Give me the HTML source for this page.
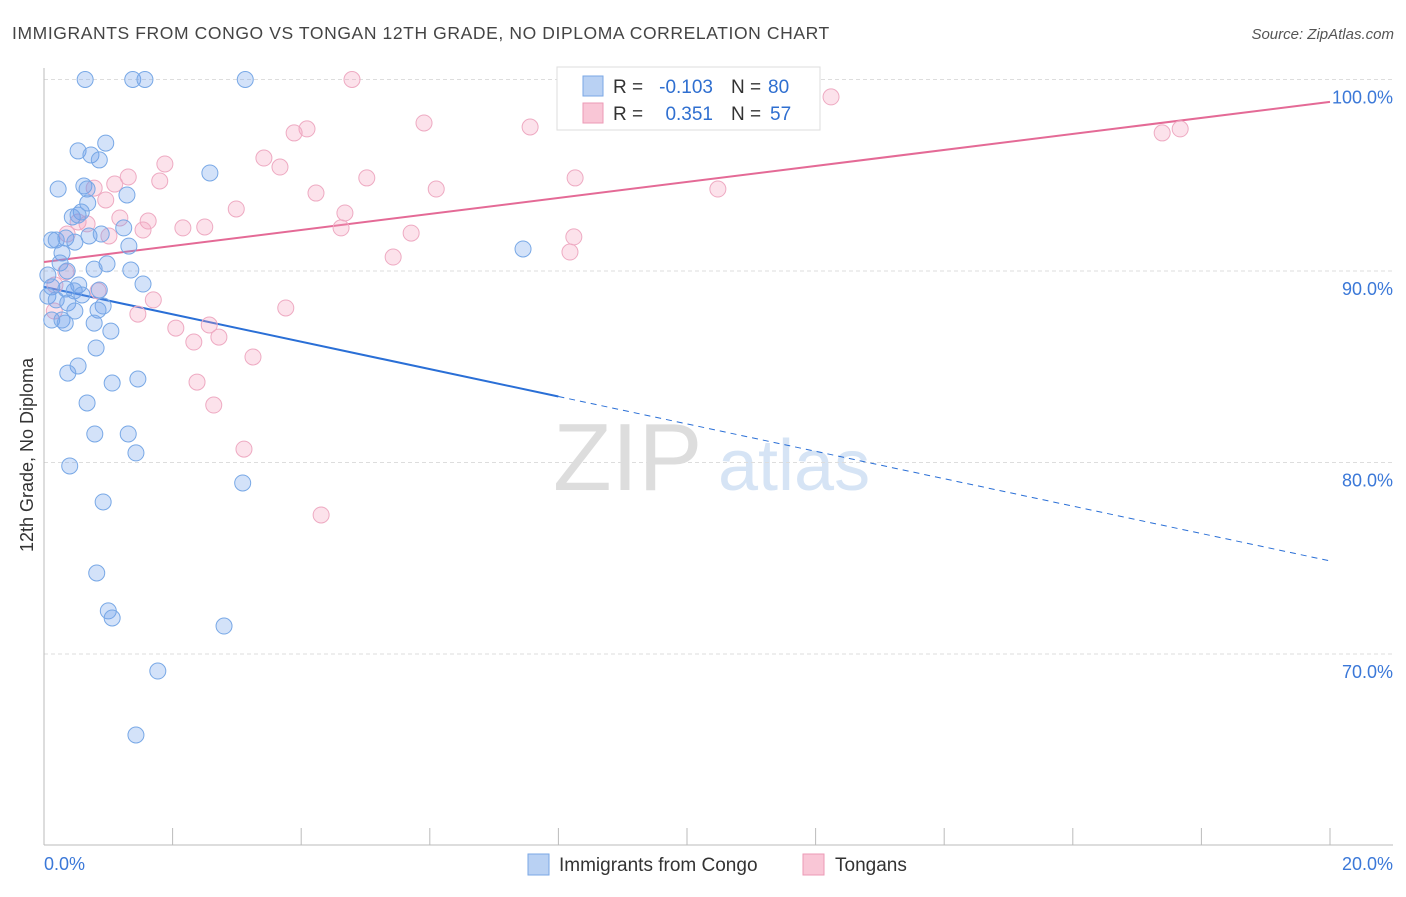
<!DOCTYPE html>
<html><head><meta charset="utf-8">
<style>
body{margin:0;background:#fff;font-family:"Liberation Sans",sans-serif;}
svg text{font-family:"Liberation Sans",sans-serif;}
</style></head>
<body>
<svg id="chart" width="1406" height="892">
<text x="12" y="39" font-size="17.5" fill="#444" letter-spacing="0.6">IMMIGRANTS FROM CONGO VS TONGAN 12TH GRADE, NO DIPLOMA CORRELATION CHART</text>
<text x="1394" y="39" font-size="15" fill="#555" font-style="italic" text-anchor="end">Source: ZipAtlas.com</text>
<text x="33" y="455" font-size="18" fill="#333" text-anchor="middle" transform="rotate(-90 33 455)">12th Grade, No Diploma</text>
<g>
<text x="553" y="490" font-size="96" fill="#ddd" font-family="Liberation Serif">ZIP</text>
<text x="718" y="490" font-size="72" fill="#d6e4f5">atlas</text>
</g>
<g id="grid"></g>
<g id="axes"></g>
<g id="lines"></g>
<g id="points"></g>
<g>
<rect x="557" y="67" width="263" height="63" fill="#fff" stroke="#ddd"/>
<rect x="583" y="76" width="20" height="20" fill="#b9d1f3" stroke="#7aa7e6"/>
<rect x="583" y="103" width="20" height="20" fill="#f9c6d6" stroke="#ec9ab6"/>
<text x="613" y="93" font-size="19" fill="#333">R =</text>
<text x="713" y="93" font-size="19" fill="#2f6fd0" text-anchor="end">-0.103</text>
<text x="731" y="93" font-size="19" fill="#333">N =</text>
<text x="768" y="93" font-size="19" fill="#2f6fd0">80</text>
<text x="613" y="120" font-size="19" fill="#333">R =</text>
<text x="713" y="120" font-size="19" fill="#2f6fd0" text-anchor="end">0.351</text>
<text x="731" y="120" font-size="19" fill="#333">N =</text>
<text x="770" y="120" font-size="19" fill="#2f6fd0">57</text>
</g>
<g>
<rect x="528" y="854" width="21" height="21" fill="#b9d1f3" stroke="#7aa7e6"/>
<text x="559" y="871" font-size="19" fill="#333">Immigrants from Congo</text>
<rect x="803" y="854" width="21" height="21" fill="#f9c6d6" stroke="#ec9ab6"/>
<text x="835" y="871" font-size="19" fill="#333">Tongans</text>
</g>
</svg>
<script>
const blueX=[0.64,1.38,1.57,3.13,0.96,0.53,0.73,0.86,2.58,0.22,0.62,0.67,1.29,0.68,0.58,0.44,0.53,1.24,0.70,0.89,0.12,0.19,0.34,0.48,1.32,0.28,0.25,0.98,0.78,1.35,0.36,0.06,1.54,0.12,0.54,0.86,0.34,0.47,0.59,0.06,0.19,0.37,0.92,0.48,0.84,0.12,0.28,0.33,0.78,1.04,0.81,0.53,0.37,1.06,1.46,0.67,0.79,1.31,1.43,0.40,3.09,0.92,0.82,1.00,1.06,2.80,1.77,1.43,7.45];
const blueY=[100,100,100,100,96.68,96.27,96.06,95.80,95.12,94.28,94.44,94.28,93.97,93.55,93.08,92.82,92.92,92.25,91.83,91.93,91.62,91.62,91.72,91.51,91.30,90.94,90.42,90.37,90.10,90.05,90.00,89.79,89.32,89.17,89.27,89.01,89.06,88.96,88.75,88.69,88.49,88.33,88.17,87.91,87.96,87.44,87.44,87.28,87.28,86.86,85.98,85.04,84.67,84.15,84.36,83.11,81.49,81.49,80.50,79.82,78.93,77.94,74.23,72.25,71.88,71.46,69.11,65.77,91.15];
const pinkX=[4.79,12.24,17.39,17.67,7.56,5.91,4.09,3.89,3.42,3.67,1.88,1.80,1.31,1.10,0.78,0.96,4.23,5.02,6.10,8.26,10.48,2.99,4.68,1.62,1.18,0.53,0.67,0.36,1.01,1.54,2.16,2.50,4.62,5.71,8.24,8.18,5.43,0.34,0.17,0.84,1.70,3.76,1.46,2.05,2.57,2.72,2.33,0.16,3.25,2.38,2.64,3.11,4.31];
const pinkY=[100,99.09,97.21,97.42,97.52,97.73,97.42,97.21,95.90,95.43,95.59,94.70,94.91,94.54,94.33,93.71,94.07,94.86,94.28,94.86,94.28,93.24,93.03,92.61,92.77,92.56,92.46,91.93,91.83,92.14,92.25,92.30,92.25,91.98,91.78,90.99,90.73,89.95,89.27,88.96,88.49,88.07,87.75,87.02,87.18,86.55,86.29,87.91,85.51,84.20,83.00,80.70,77.26];
const yTicks=[100,90,80,70];
const yTickLabels=["100.0%","90.0%","80.0%","70.0%"];
const xTickLabels=["0.0%","20.0%"];
const blueFit=[89.17,74.86];
const pinkFit=[90.47,98.83];
const blueSolidEnd=8;

const NS="http://www.w3.org/2000/svg";
const X0=44,X1=1330,YTOP=79.5,PXPER=19.15;
const xs=v=>X0+(X1-X0)*v/20;
const ys=v=>YTOP+(100-v)*PXPER;
function mk(tag,attrs,parent){const e=document.createElementNS(NS,tag);for(const k in attrs)e.setAttribute(k,attrs[k]);parent.appendChild(e);return e;}
const grid=document.getElementById('grid'),axes=document.getElementById('axes'),lines=document.getElementById('lines'),pts=document.getElementById('points');
yTicks.forEach((t,i)=>{
  const l=mk('line',{x1:X0,x2:1393,y1:ys(t),y2:ys(t),stroke:'#ddd','stroke-dasharray':'4 3'},grid);
  
  
  const tx=mk('text',{x:1393,y:ys(t)+24,'font-size':18,fill:'#3b78d8','text-anchor':'end'},axes);
  tx.textContent=yTickLabels[i];
  
  
});
const ya=mk('line',{x1:X0,x2:X0,y1:68,y2:845,stroke:'#bbb'},axes);


const xa=mk('line',{x1:X0,x2:1393,y1:845,y2:845,stroke:'#bbb'},axes);


for(let i=0;i<=20;i+=2){
  const tk=mk('line',{x1:xs(i),x2:xs(i),y1:828,y2:845,stroke:'#bbb'},axes);
  
  
}
[[0,'start',X0],[20,'end',1393]].forEach((a,i)=>{
  const t=mk('text',{x:a[2],y:870,'font-size':18,fill:'#3b78d8','text-anchor':a[1]},axes);
  t.textContent=xTickLabels[i];
  
  
});
function fitY(f,x){return f[0]+(f[1]-f[0])*x/20;}
const bs=mk('line',{x1:xs(0),y1:ys(fitY(blueFit,0)),x2:xs(blueSolidEnd),y2:ys(fitY(blueFit,blueSolidEnd)),stroke:'#2a6fd6','stroke-width':2},lines);


const bd=mk('line',{x1:xs(blueSolidEnd),y1:ys(fitY(blueFit,blueSolidEnd)),x2:xs(20),y2:ys(fitY(blueFit,20)),stroke:'#2a6fd6','stroke-width':1,'stroke-dasharray':'6 5'},lines);


const pl=mk('line',{x1:xs(0),y1:ys(fitY(pinkFit,0)),x2:xs(20),y2:ys(fitY(pinkFit,20)),stroke:'#e46a96','stroke-width':2},lines);


pinkX.forEach((x,i)=>{
  const c=mk('circle',{cx:xs(x),cy:ys(pinkY[i]),r:8,fill:'rgba(244,160,190,0.3)',stroke:'#eeaac2','stroke-width':1},pts);
  
  
});
blueX.forEach((x,i)=>{
  const c=mk('circle',{cx:xs(x),cy:ys(blueY[i]),r:8,fill:'rgba(110,160,235,0.3)',stroke:'#78a8e6','stroke-width':1},pts);
  
  
});
</script>
</body></html>
